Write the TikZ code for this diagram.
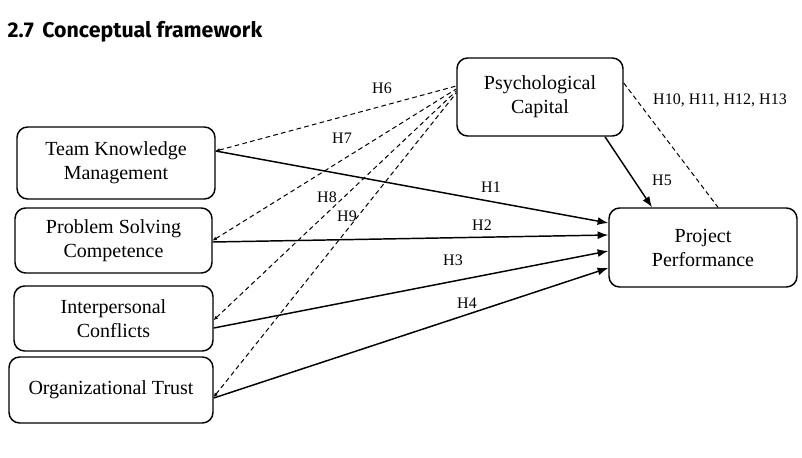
\documentclass[tikz,border=0pt]{standalone}
\usepackage{fontspec}
\setmainfont{Liberation Serif}
\newfontfamily\headfont{Fira Sans}
\usepackage{tikz}
\usetikzlibrary{calc,arrows.meta}

\tikzset{
  construct/.style={draw, line width=1.1pt, rounded corners=8pt, align=center,
    font=\fontsize{15}{18}\selectfont, inner sep=0pt},
  effect/.style={line width=1.1pt, -{Latex[length=8pt,width=6pt]}},
  mediation/.style={dashed, line width=0.75pt, dash pattern=on 3.5pt off 2.5pt,
    {Latex[length=3pt,width=3pt]}-},
  hyp/.style={font=\fontsize{12}{14}\selectfont}
}

\begin{document}
\begin{tikzpicture}[x=0.75pt, y=-0.75pt]
\useasboundingbox (0,0) rectangle (802,457);
%\draw[step=50, black!20!white] (0,0) grid (802,457);

\node[anchor=base west, font=\headfont\bfseries\fontsize{16}{20}\selectfont] (title) at (3,37) {2.7\hspace{0.4em}Conceptual framework};

% constructs
\node[construct, minimum width=148.5pt, minimum height=54pt] (tkm) at (116,163) {Team Knowledge\\Management};
\node[construct, minimum width=147.75pt, minimum height=48.75pt] (psc) at (113.5,240.5) {Problem Solving\\Competence};
\node[construct, minimum width=149.25pt, minimum height=48.75pt] (ic) at (113.5,318.5) {Interpersonal\\Conflicts};
\node[construct, minimum width=153pt, minimum height=49.5pt] (ot) at (111,390) {Organizational Trust};
\node[construct, minimum width=124.5pt, minimum height=58.5pt] (pc) at (540,97) {Psychological\\Capital};
\node[construct, minimum width=141pt, minimum height=59.25pt] (pp) at (703,247.5) {Project\\Performance};

% direct effects
\draw[effect] ($(tkm.east)+(0,-12)$) -- ($(pp.west)+(0,-24.5)$);
\draw[effect] ($(psc.east)+(0,1.5)$) -- ($(pp.west)+(0,-12.5)$);
\draw[effect] ($(ic.east)+(0,9.5)$) -- ($(pp.west)+(0,3.5)$);
\draw[effect] ($(ot.east)+(0,8)$) -- ($(pp.west)+(0,20.5)$);
\draw[effect] ($(pc.south)+(65,0)$) -- ($(pp.north)+(-51,0)$);

% mediated paths
\draw[mediation] ($(tkm.east)+(0,-12)$) -- ($(pc.west)+(0,-11)$);
\draw[mediation] ($(psc.east)+(0,0)$) -- ($(pc.west)+(0,-8)$);
\draw[mediation] ($(ic.east)+(0,1.5)$) -- ($(pc.west)+(0,-6)$);
\draw[mediation] ($(ot.east)+(0,7)$) -- ($(pc.west)+(0,-4)$);
\draw[mediation, -] ($(pc.east)+(0,-14)$) -- ($(pp.north)+(15,0)$);

% hypotheses
\node[hyp] (h1) at (491,187) {H1};
\node[hyp] (h2) at (482,225) {H2};
\node[hyp] (h3) at (453,260) {H3};
\node[hyp] (h4) at (467,303) {H4};
\node[hyp] (h5) at (662,180) {H5};
\node[hyp] (h6) at (382,88) {H6};
\node[hyp] (h7) at (342,138) {H7};
\node[hyp] (h8) at (327,197) {H8};
\node[hyp] (h9) at (347,216) {H9};
\node[hyp] (h10) at (720,100) {H10, H11, H12, H13};
\end{tikzpicture}
\end{document}
